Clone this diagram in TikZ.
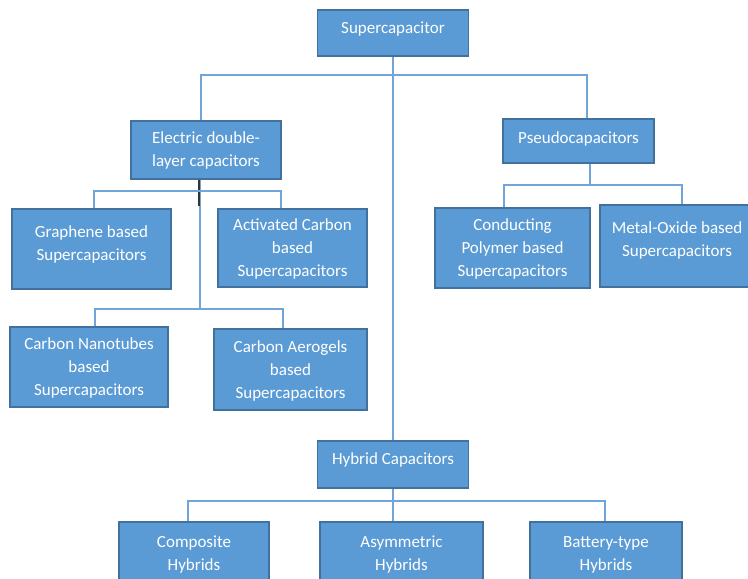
\documentclass[tikz,border=0pt]{standalone}
\usepackage{fontspec}
\setmainfont{Carlito}
\usetikzlibrary{calc}
\definecolor{boxfill}{HTML}{5B9BD5}
\definecolor{boxedge}{HTML}{41719C}
\definecolor{linkblue}{HTML}{6FA5D8}
\begin{document}
\begin{tikzpicture}[x=0.75pt,y=0.75pt,yscale=-1,xscale=1,
  box/.style={draw=boxedge, fill=boxfill, line width=1.1pt, text=white, align=center, inner sep=1pt,
    font=\fontsize{12.75}{17.25}\selectfont},
  lift/.style={text depth=#1},
  link/.style={draw=linkblue, line width=0.9pt},
  tick/.style={draw=black!80, line width=1.1pt}]
\useasboundingbox (0,0) rectangle (748,578);
\clip (0,0) rectangle (748,578);
%Boxes
\node[box, lift=8.6pt, minimum width=113.25pt, minimum height=34.5pt] (sc) at (393,33) {Supercapacitor};
\node[box, minimum width=112.5pt, minimum height=43.5pt] (edlc) at (206,150) {Electric double-\\layer capacitors};
\node[box, lift=5.6pt, minimum width=113.25pt, minimum height=33pt] (pc) at (578.5,141) {Pseudocapacitors};
\node[box, lift=9.4pt, minimum width=119.25pt, minimum height=60pt] (gr) at (91.5,249) {Graphene based\\Supercapacitors};
\node[box, lift=-3.4pt, minimum width=111.75pt, minimum height=58.5pt] (ac) at (292.5,248) {Activated Carbon\\based\\Supercapacitors};
\node[box, lift=-0.4pt, minimum width=118.5pt, minimum height=60pt] (nt) at (89,367) {Carbon Nanotubes\\based\\Supercapacitors};
\node[box, lift=-0.4pt, minimum width=114.75pt, minimum height=60.75pt] (ae) at (290.5,369.5) {Carbon Aerogels\\based\\Supercapacitors};
\node[box, lift=-0.4pt, minimum width=116.25pt, minimum height=60pt] (cp) at (512.5,248) {Conducting\\Polymer based\\Supercapacitors};
\node[box, lift=10.1pt, minimum width=115.5pt, minimum height=61.5pt] (mo) at (677,246) {Metal-Oxide based\\Supercapacitors};
\node[box, lift=8.6pt, minimum width=113.25pt, minimum height=35.25pt] (hyb) at (393,464.5) {Hybrid Capacitors};
\node[box, lift=13.1pt, minimum width=112.5pt, minimum height=60pt] (co) at (194,562) {Composite\\Hybrids};
\node[box, lift=13.1pt, minimum width=122.25pt, minimum height=60pt] (as) at (401.5,562) {Asymmetric\\Hybrids};
\node[box, lift=13.1pt, minimum width=114pt, minimum height=60pt] (bt) at (606,562) {Battery-type\\Hybrids};
%Junctions
\coordinate (j0) at (393,75);
\coordinate (j1) at (200,191);
\coordinate (j2) at (200,309);
\coordinate (j3) at (590,185);
\coordinate (j4) at (393,501);
%Straight Lines
\draw[link] (sc.south) -- (hyb.north);
\draw[link] ($(edlc.north)+(-5,0)$) |- (j0) -| ($(pc.north)+(8.5,0)$);
\draw[link] (edlc.south -| j1) -- (j2);
\draw[tick] (edlc.south -| 199,0) -- ++(0,26);
\draw[link] ($(gr.north)+(2.5,0)$) |- (j1) -| ($(ac.north)+(-11.5,0)$);
\draw[link] ($(nt.north)+(6,0)$) |- (j2) -| ($(ae.north)+(-7.5,0)$);
\draw[link] (pc.south -| j3) -- (j3);
\draw[link] ($(cp.north)+(-8.5,0)$) |- (j3) -| ($(mo.north)+(5,0)$);
\draw[link] (hyb.south) -- (as.north -| hyb.south);
\draw[link] ($(co.north)+(-6,0)$) |- (j4) -| ($(bt.north)+(-1,0)$);
\end{tikzpicture}
\end{document}
